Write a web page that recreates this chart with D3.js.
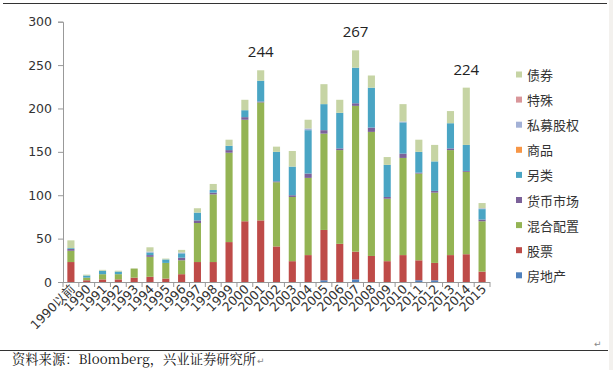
<!DOCTYPE html>
<html>
<head>
<meta charset="utf-8">
<script src="https://cdn.jsdelivr.net/npm/d3@7"></script>
<style>
  body { margin: 0; background: #fff; }
  svg { display: block; }
</style>
</head>
<body>
<div id="chart"></div>
<script>
// categories (years)
var years = ["1990以前", "1990", "1991", "1992", "1993", "1994", "1995", "1996", "1997", "1998",
  "1999", "2000", "2001", "2002", "2003", "2004", "2005", "2006", "2007", "2008",
  "2009", "2010", "2011", "2012", "2013", "2014", "2015"];

// series (count of funds)
var realEstate = [0, 0, 0, 0, 0, 0, 0, 0, 0, 0, 0, 0, 0, 0, 0, 0, 2, 0, 3, 0, 0, 0, 2, 2, 0, 0, 0];
var stock      = [23, 2, 3, 3, 5, 6, 4, 9, 23, 23, 46, 70, 71, 41, 24, 31, 58, 44, 32, 30, 24, 31, 23, 20, 31, 32, 12];
var mixed      = [13, 3, 6, 6, 10, 23, 18, 16, 45, 78, 103, 117, 136, 74, 74, 89, 111, 108, 168, 143, 72, 112, 100, 81, 121, 95, 58];
var money      = [2, 0, 0, 0, 0, 2, 0, 3, 3, 2, 3, 3, 1, 1, 2, 5, 4, 2, 3, 5, 2, 5, 1, 2, 2, 1, 2];
var alt        = [1, 2.5, 4, 3, 0, 3, 4, 5, 9, 3, 5, 8, 24, 34, 33, 50, 30, 41, 41, 46, 37, 36, 24, 34, 29, 30, 12];
var commodity  = [0, 0, 0, 0, 0, 0, 0, 0, 0, 0, 0, 0, 0, 0, 0, 0, 0, 0, 0, 0, 0, 0, 0, 0, 0, 0, 0];
var privateEq  = [0, 0, 0, 0, 0, 1, 0, 1, 0, 0, 0, 0, 0, 0, 0, 2, 0, 0, 0, 0, 0, 1, 0, 0, 0, 0, 1];
var special    = [0, 0, 0, 0, 0, 0, 0, 0, 0, 0, 0, 0, 0, 0, 0, 0, 0, 0, 0, 0, 0, 0, 0, 0, 0, 0, 0];
var bond       = [9, 1, 1, 1, 1, 5, 1, 3, 5, 7, 7, 12, 12, 6, 18, 10, 23, 15, 20, 14, 9, 20, 14, 19, 14, 66, 6];

var seriesNames = ["房地产", "股票", "混合配置", "货币市场", "另类", "商品", "私募股权", "特殊", "债券"];
var seriesData = [realEstate, stock, mixed, money, alt, commodity, privateEq, special, bond];
var colors = ["#4F81BD", "#BE4B48", "#94B454", "#7B6199", "#4AA5C4", "#F79646", "#A3B1D6", "#D9969A", "#C6D4A4"];

var yTicks = [0, 50, 100, 150, 200, 250, 300];
var annotated = ["2001", "2007", "2014"];

var width = 613, height = 370;
var svg = d3.select("#chart").append("svg").attr("width", width).attr("height", height);

// page frame lines
svg.append("line").attr("x1", 3).attr("x2", 607).attr("y1", 3.5).attr("y2", 3.5)
  .attr("stroke", "#333").attr("stroke-width", 1.2);
svg.append("rect").attr("x", 609).attr("y", 0).attr("width", 4).attr("height", height).attr("fill", "#f3f1ee");
svg.append("line").attr("x1", 0).attr("x2", 608).attr("y1", 350.5).attr("y2", 350.5)
  .attr("stroke", "#333").attr("stroke-width", 1);

var table = years.map(function(y, i) {
  var row = {year: y};
  seriesNames.forEach(function(n, k) { row[n] = seriesData[k][i]; });
  return row;
});

var stacked = d3.stack().keys(seriesNames)(table);

var x = d3.scaleBand().domain(years).range([63, 490]).paddingInner(0.55).paddingOuter(0.275);
var y = d3.scaleLinear().domain([0, 300]).range([282, 21.7]);

var g = svg.append("g");

g.selectAll(".layer")
  .data(stacked)
  .enter().append("g")
  .attr("class", "layer")
  .attr("fill", function(d, i) { return colors[i]; })
  .selectAll("rect")
  .data(function(d) { return d; })
  .enter().append("rect")
  .attr("x", function(d) { return x(d.data.year); })
  .attr("y", function(d) { return y(d[1]); })
  .attr("height", function(d) { return y(d[0]) - y(d[1]); })
  .attr("width", x.bandwidth());

// y axis
var yAxis = d3.axisLeft(y).tickValues(yTicks).tickSize(5).tickPadding(6);
var ya = svg.append("g").attr("transform", "translate(63,0)").call(yAxis);
ya.select(".domain").attr("stroke", "#999");
ya.selectAll(".tick line").attr("stroke", "#999");
ya.selectAll("text").attr("font-family", "'DejaVu Sans', sans-serif")
  .attr("font-size", 12.5).attr("fill", "#333");

// x axis: ticks between categories
var xa = svg.append("g").attr("transform", "translate(0,282)");
xa.append("line").attr("x1", 63).attr("x2", 490).attr("y1", 0.5).attr("y2", 0.5).attr("stroke", "#999");
xa.selectAll(".sep").data(d3.range(years.length + 1)).enter().append("line")
  .attr("x1", function(i) { return 63 + i * (427 / years.length); })
  .attr("x2", function(i) { return 63 + i * (427 / years.length); })
  .attr("y1", 0).attr("y2", 5).attr("stroke", "#999");
xa.selectAll(".lab").data(years).enter().append("text")
  .attr("transform", function(d) {
    return "translate(" + (x(d) + x.bandwidth() / 2 + 5) + ",8) rotate(-45)";
  })
  .attr("text-anchor", "end")
  .attr("font-family", "'DejaVu Sans', 'Noto Sans CJK SC', sans-serif")
  .attr("font-size", 12.5).attr("fill", "#333")
  .text(function(d) { return d; });

// total labels
svg.selectAll(".total").data(table.filter(function(d) { return annotated.indexOf(d.year) >= 0; }))
  .enter().append("text")
  .attr("x", function(d) { return x(d.year) + x.bandwidth() / 2; })
  .attr("y", function(d) { return y(d3.sum(seriesNames, function(n) { return d[n]; })) - 13; })
  .attr("text-anchor", "middle")
  .attr("font-family", "'Open Sans', sans-serif").attr("font-size", 15).attr("fill", "#222")
  .text(function(d) { return Math.round(d3.sum(seriesNames, function(n) { return d[n]; })); });

// legend, reversed order
var legendItems = seriesNames.slice().reverse();
var lg = svg.append("g").selectAll(".leg").data(legendItems).enter().append("g")
  .attr("transform", function(d, i) { return "translate(516," + (75 + i * 25.1) + ")"; });
lg.append("rect").attr("x", 0).attr("y", -3.5).attr("width", 6).attr("height", 6)
  .attr("fill", function(d) { return colors[seriesNames.indexOf(d)]; });
lg.append("text").attr("x", 11).attr("y", 5)
  .attr("font-family", "'Noto Sans CJK SC', sans-serif").attr("font-size", 13).attr("fill", "#333")
  .text(function(d) { return d; });

// source note
svg.append("text").attr("x", 12).attr("y", 364)
  .attr("font-family", "'Noto Serif CJK SC', 'Liberation Serif', 'Noto Sans CJK SC', serif")
  .attr("font-size", 13.3).attr("fill", "#111")
  .text("资料来源：Bloomberg，兴业证券研究所");
svg.append("text").attr("x", 257).attr("y", 364).attr("font-size", 9).attr("fill", "#888")
  .attr("font-family", "'DejaVu Sans', sans-serif").text("↵");
svg.append("text").attr("x", 594).attr("y", 347).attr("font-size", 9).attr("fill", "#888")
  .attr("font-family", "'DejaVu Sans', sans-serif").text("↵");
</script>
</body>
</html>
